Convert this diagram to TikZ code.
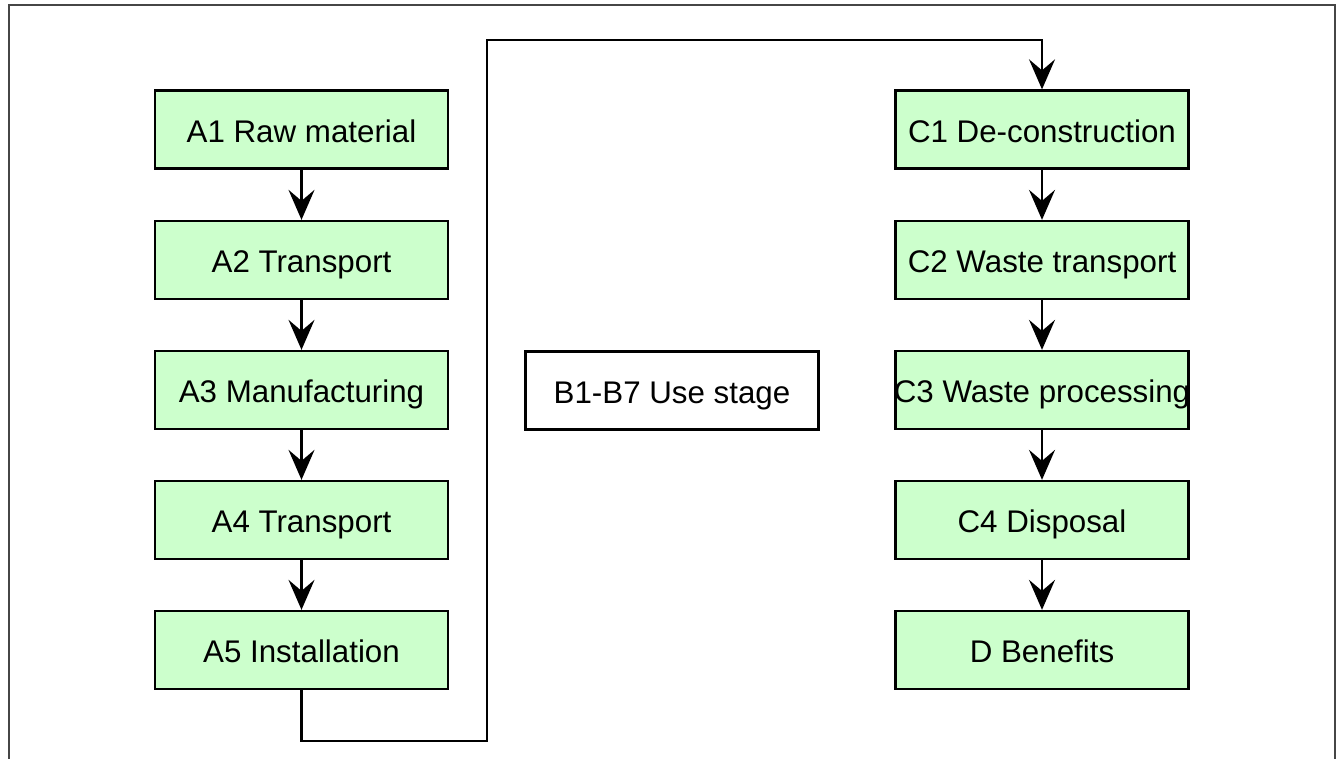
\documentclass[tikz,border=0pt]{standalone}
\usepackage{fontspec}
\setmainfont{Liberation Sans}
\usetikzlibrary{arrows.meta}
\definecolor{boxgreen}{RGB}{204,255,204}
\definecolor{framegray}{RGB}{70,70,70}
\tikzset{
  stagebox/.style={draw=black, line width=2.3pt, fill=boxgreen, minimum width=293pt, minimum height=78pt, inner sep=0pt, text height=27pt, text depth=2pt, font=\fontsize{31.3}{36}\selectfont},
  usebox/.style={stagebox, fill=white},
  arr/.style={draw=black, line width=2.3pt, -{Stealth[length=30pt,width=26pt,inset=11pt]}},
  framestyle/.style={draw=framegray, line width=1.6pt}
}
\begin{document}
\begin{tikzpicture}[x=1pt,y=-1pt]
\useasboundingbox (0,0) rectangle (1343,758);
\draw[framestyle] (9,760) -- (9,5) -- (1335,5) -- (1335,760);
\node[stagebox] (A1) at (301.5,129.5) {A1 Raw material};
\node[stagebox] (A2) at (301.5,260) {A2 Transport};
\node[stagebox] (A3) at (301.5,390) {A3 Manufacturing};
\node[stagebox] (A4) at (301.5,520) {A4 Transport};
\node[stagebox] (A5) at (301.5,650) {A5 Installation};
\node[usebox] (B) at (672,390.5) {B1-B7 Use stage};
\node[stagebox] (C1) at (1042,129.5) {C1 De-construction};
\node[stagebox] (C2) at (1042,260) {C2 Waste transport};
\node[stagebox] (C3) at (1042,390) {\makebox[0pt][c]{C3 Waste processing}};
\node[stagebox] (C4) at (1042,520) {C4 Disposal};
\node[stagebox] (D) at (1042,650) {D Benefits};
\coordinate (r1) at (487,741);
\coordinate (r2) at (487,40);
\draw[arr] (A1) -- (A2);
\draw[arr] (A2) -- (A3);
\draw[arr] (A3) -- (A4);
\draw[arr] (A4) -- (A5);
\draw[arr] (C1) -- (C2);
\draw[arr] (C2) -- (C3);
\draw[arr] (C3) -- (C4);
\draw[arr] (C4) -- (D);
\draw[arr] (A5.south) |- (r1) -- (r2) -| (C1.north);
\end{tikzpicture}
\end{document}
